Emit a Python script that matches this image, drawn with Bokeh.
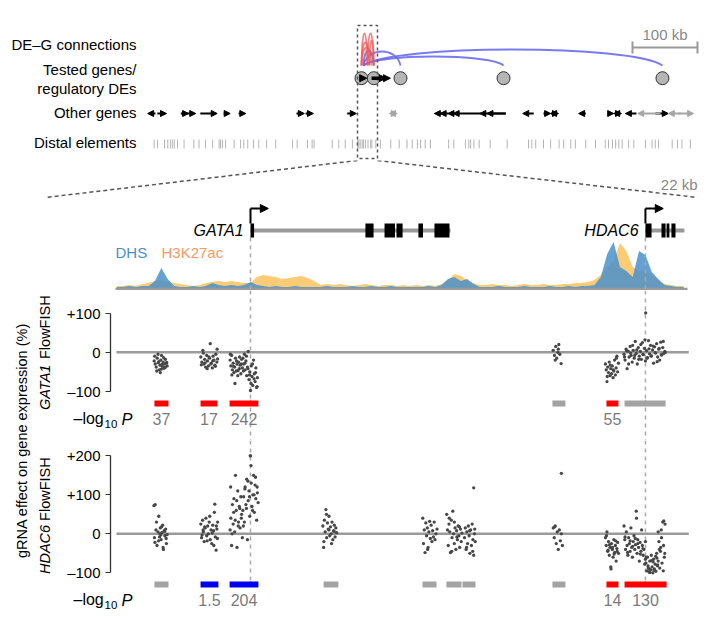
import numpy as np
from math import pi
from bokeh.plotting import figure
from bokeh.layouts import column, row
from bokeh.models import (Range1d, ColumnDataSource, Arrow, NormalHead,
                          FixedTicker, CustomJSTickFormatter)
from bokeh.core.properties import value
from bokeh.embed import file_html
from bokeh.resources import INLINE

FONT = "Liberation Sans"

# ============================ DATA ============================
# ---- overview (kb relative to GATA1 TSS) ----
DE_KB = [0, 18.9, 60, 218.5, 463]
TESTED_START = [0, 15.5, 39]
TESTED_END = [8, 38, 44.5]

ARC_DE = [463, 218.5, 60, 18.9, 0, 18.9, 0, 18.9, 0]
ARC_GENE = [3, 3, 3, 3, 9, 9, 12, 12, 15.5]
ARC_HEIGHT = [16, 9, 14, 15, 32, 32, 23, 25, 18]
ARC_DIR = ["up", "up", "up", "up", "down", "down", "down", "down", "down"]

OTHER_START = [-329, -314, -278, -268, -248, -212, -189, -100, -86, -22, 43, 49,
               112, 121, 133, 141, 182, 193, 248, 280, 291, 292, 334, 380, 388, 392,
               406, 425, 452, 472, 488]
OTHER_END = [-317, -300, -266, -255, -222, -202, -178, -88, -74, -8, 49, 55,
             124, 134, 143, 185, 222, 222, 265, 291, 300, 303, 345, 388, 395, 400,
             423, 460, 472, 491, 511]
OTHER_STRAND = ["-", "+", "+", "+", "+", "+", "+", "+", "+", "+", "-", "+",
                "-", "-", "-", "-", "-", "-", "-", "+", "-", "+", "-", "+", "-", "+",
                "-", "-", "+", "-", "+"]
OTHER_EXPRESSED = [1, 1, 1, 1, 1, 1, 1, 1, 1, 1, 0, 0,
                   1, 1, 1, 1, 1, 1, 1, 1, 1, 1, 1, 1, 1, 1,
                   1, 0, 1, 0, 0]

DISTAL_KB = [-319, -314, -303, -298, -294, -291, -288, -283, -273, -258, -250, -240,
             -229, -219, -217, -214, -209, -196, -186, -181, -175, -166, -158, -146,
             -132, -106, -99, -83, -76, -73, -45, -35, -25, -14, -6, -4, -2, 1, 3, 6,
             10, 14, 16, 22, 29, 45, 58, 70, 78, 86, 91, 98, 106, 134, 142, 160, 165,
             168, 173, 181, 198, 224, 257, 262, 268, 280, 291, 304, 311, 322, 329, 345,
             360, 375, 380, 386, 391, 396, 401, 411, 419, 437, 447, 452, 457, 478, 486,
             493, 506]
SCALE_KB = 100

# ---- zoomed locus (kb relative to GATA1 TSS) ----
GENE_NAMES = ["GATA1", "HDAC6"]
GENE_TSS = [0.0, 15.5]
GENE_END = [7.85, 17.03]
EXON_START = [0.0, 4.51, 5.26, 5.73, 6.59, 7.22, 15.5, 16.13, 16.33, 16.52]
EXON_END = [0.14, 4.83, 5.67, 5.97, 6.77, 7.81, 15.74, 16.29, 16.44, 16.68]
ZOOM_START, ZOOM_END = -5.3, 17.2

SIG_START, SIG_STEP = -5.25, 0.25
DHS = [2, 2, 3, 2, 3, 3, 8, 21, 10, 3, 2, 2, 3, 2, 3, 6, 4, 3, 4, 3, 4, 7, 4, 3, 2, 3, 2, 2, 3, 2,
       2, 2, 2, 3, 2, 2, 2, 3, 2, 2, 3, 2, 2, 3, 2, 2, 2, 2, 2, 3, 2, 4, 10, 12, 8, 10, 5, 2, 2, 2,
       3, 2, 2, 2, 3, 2, 2, 2, 3, 2, 2, 3, 2, 3, 3, 4, 12, 35, 47, 22, 18, 12, 38, 34, 17, 10, 4, 3, 2, 2]
H3K27AC = [3, 3, 4, 3, 5, 6, 8, 9, 7, 6, 5, 4, 3, 4, 6, 7, 8, 7, 8, 7, 6, 6, 12, 14, 13, 12, 10, 11, 12, 13,
           11, 8, 4, 5, 4, 5, 4, 3, 4, 5, 4, 3, 4, 4, 3, 4, 3, 4, 3, 4, 3, 5, 9, 15, 13, 9, 6, 4, 4, 5,
           4, 4, 3, 4, 5, 4, 4, 5, 4, 4, 5, 5, 6, 6, 7, 9, 14, 22, 28, 46, 38, 22, 18, 20, 14, 8, 5, 4, 3, 3]

# ---- CRISPRi FlowFISH gRNA effects (%), x = gRNA position (kb) ----
GATA1_X = (
    [-3.78, -3.74, -3.70, -3.66, -3.62, -3.58, -3.55, -3.52, -3.49, -3.46, -3.43, -3.40, -3.37, -3.34, -3.30, -3.27,
     -3.76, -3.68, -3.60, -3.54, -3.47, -3.41, -3.35, -3.29, -3.63, -3.50]
    + [-1.95, -1.91, -1.87, -1.83, -1.80, -1.76, -1.72, -1.69, -1.65, -1.61, -1.58, -1.54, -1.50, -1.47, -1.43, -1.40,
       -1.36, -1.32, -1.29, -1.93, -1.85, -1.78, -1.70, -1.63, -1.56, -1.48, -1.38, -1.31]
    + [-0.80, -0.77, -0.74, -0.71, -0.68, -0.65, -0.62, -0.59, -0.56, -0.53, -0.50, -0.47, -0.44, -0.41, -0.38, -0.35,
       -0.32, -0.79, -0.73, -0.67, -0.61, -0.55, -0.49, -0.43, -0.37]
    + [-0.30, -0.27, -0.24, -0.21, -0.18, -0.15, -0.12, -0.09, -0.06, -0.03, 0.00, 0.03, 0.06, 0.09, 0.12, 0.15,
       0.18, 0.21, 0.24, 0.27, -0.28, -0.22, -0.16, -0.10, -0.04, 0.02, 0.08, 0.14, 0.20, 0.26]
    + [11.88, 11.93, 11.98, 12.02, 12.06, 12.10, 12.14, 12.19, 11.96, 12.08]
    + [13.93, 13.96, 13.99, 14.02, 14.05, 14.08, 14.11, 14.14, 14.17, 14.20, 14.23, 14.26, 14.29, 14.32, 14.35, 14.38,
       14.41, 14.44, 14.00, 14.12, 14.24, 14.36]
    + [14.66, 14.70, 14.74, 14.78, 14.82, 14.86, 14.90, 14.94, 14.98, 15.02, 15.06, 15.10, 15.14, 15.18, 15.22, 15.26,
       15.30, 15.34, 15.38, 15.42, 15.46, 15.50, 15.54, 15.58, 15.62, 15.66, 15.70, 15.74, 15.78, 15.82, 15.86, 15.90,
       15.94, 15.98, 16.02, 16.06, 16.10, 16.14, 16.18, 16.22, 16.26,
       14.68, 14.76, 14.84, 14.92, 15.00, 15.08, 15.16, 15.24, 15.32, 15.40, 15.48, 15.56, 15.64, 15.72, 15.80, 15.88,
       15.96, 16.04, 16.12, 16.20, 16.28, 15.51]
)
GATA1_Y = (
    [-22, -30, -38, -15, -27, -45, -33, -20, -8, -36, -25, -41, -30, -18, -28, -35,
     -10, -48, -24, -52, -31, -14, -39, -26, -5, -43]
    + [-12, -25, 5, -30, -18, -38, -8, -22, -35, -15, 22, -28, -40, -10, -20, -33,
       -5, -25, -17, -32, -2, -27, -42, -12, -30, -22, -36, 8]
    + [-20, -35, -8, -45, -28, -52, -38, -15, -48, -30, -60, -25, -42, -33, -55, -18,
       -40, -5, -58, -36, -80, -22, -47, -12, -30]
    + [-15, -30, -5, -45, -22, -60, -38, 2, -70, -50, -98, -35, -62, -85, -20, -55,
       -75, -40, -90, -65, -48, -28, -10, -42, -58, -80, -30, -68, -52, -88]
    + [5, -8, 15, -15, 0, 20, -5, -29, -20, 8]
    + [-30, -45, -75, -38, -52, -25, -60, -42, -55, -35, -65, -48, -20, -58, -40, -10,
       -50, -28, -62, -33, -45, -15]
    + [-5, -20, 8, -42, 3, -12, 15, -8, -25, 5, -15, 28, -3, -30, 12, -10,
       2, -18, 25, -6, 10, -22, 4, -14, 30, -4, 18, -9, 6, -28, 14, -2,
       22, -12, 8, -20, 26, -7, 12, -3, 2,
       -12, 4, -30, -2, 18, -8, 6, -18, 20, -5, 32, -15, 9, -10, 16, -1,
       -24, 10, -6, 28, 0, 101]
)
HDAC6_X = (
    [-3.79, -3.75, -3.71, -3.67, -3.63, -3.60, -3.57, -3.54, -3.51, -3.48, -3.45, -3.42, -3.39, -3.36, -3.33, -3.30,
     -3.27, -3.77, -3.69, -3.61, -3.55, -3.49, -3.43, -3.37, -3.31, -3.74, -3.52]
    + [-1.95, -1.92, -1.88, -1.85, -1.82, -1.78, -1.75, -1.72, -1.68, -1.65, -1.62, -1.58, -1.55, -1.52, -1.48, -1.45,
       -1.42, -1.38, -1.35, -1.32, -1.29, -1.90, -1.80, -1.70, -1.60, -1.50, -1.40, -1.30, -1.44, -1.34, -1.86]
    + [-0.80, -0.77, -0.74, -0.71, -0.68, -0.65, -0.62, -0.59, -0.56, -0.53, -0.50, -0.47, -0.44, -0.41, -0.38, -0.35,
       -0.32, -0.78, -0.72, -0.66, -0.60, -0.54, -0.48, -0.42, -0.36]
    + [-0.30, -0.27, -0.24, -0.21, -0.18, -0.15, -0.12, -0.09, -0.06, -0.03, 0.00, 0.03, 0.06, 0.09, 0.12, 0.15,
       0.18, 0.21, 0.24, 0.27, 0.30, -0.28, -0.22, -0.16, -0.10, -0.04, 0.02, 0.08, 0.14, 0.20, 0.26, -0.01]
    + [2.84, 2.87, 2.90, 2.93, 2.96, 2.99, 3.02, 3.05, 3.08, 3.11, 3.14, 3.17, 3.20, 3.23, 3.26, 3.29,
       3.32, 3.35, 3.38, 2.88, 2.98, 3.08, 3.18, 3.28]
    + [6.76, 6.79, 6.82, 6.85, 6.88, 6.91, 6.94, 6.97, 7.00, 7.03, 7.06, 7.09, 7.12, 7.15, 7.18, 7.21,
       7.24, 7.28, 7.32, 6.95]
    + [7.70, 7.73, 7.76, 7.79, 7.82, 7.85, 7.88, 7.91, 7.94, 7.97, 8.00, 8.03, 8.06, 8.09, 8.12, 8.15,
       8.18, 8.21, 8.24, 8.27, 8.30, 7.80, 7.90, 8.00, 8.10, 8.20]
    + [8.40, 8.43, 8.46, 8.49, 8.52, 8.55, 8.58, 8.61, 8.64, 8.67, 8.70, 8.73, 8.76, 8.79, 8.82, 8.48,
       8.60, 8.72, 8.80, 8.76]
    + [11.88, 11.92, 11.96, 12.00, 12.04, 12.08, 12.12, 12.16, 12.20, 12.24, 11.94, 12.20]
    + [13.93, 13.96, 13.99, 14.02, 14.05, 14.08, 14.11, 14.14, 14.17, 14.20, 14.23, 14.26, 14.29, 14.32, 14.35, 14.38,
       14.41, 14.44, 13.97, 14.03, 14.09, 14.15, 14.21, 14.27, 14.33, 14.39]
    + [14.66, 14.69, 14.72, 14.75, 14.78, 14.81, 14.84, 14.87, 14.90, 14.93, 14.96, 14.99, 15.02, 15.05, 15.08, 15.11,
       15.14, 15.17, 15.20, 15.23, 15.26, 15.29, 15.32, 15.35, 15.38, 15.41, 15.44, 15.47, 15.50, 15.53,
       14.70, 14.80, 14.90, 15.00, 15.10, 15.20, 15.30, 15.40, 15.50, 15.15]
    + [15.52, 15.55, 15.58, 15.61, 15.64, 15.67, 15.70, 15.73, 15.76, 15.79, 15.82, 15.85, 15.88, 15.91, 15.94, 15.97,
       16.00, 16.03, 16.06, 16.09, 16.12, 16.15, 16.18, 16.21, 16.24, 16.27,
       15.60, 15.68, 15.75, 15.83, 15.90, 15.98, 16.05, 16.13, 16.20, 16.26,
       15.65, 15.80, 15.95, 16.10, 16.00, 16.22]
)
HDAC6_Y = (
    [72, -22, 10, -30, 5, 45, -8, 15, -15, 3, 22, -40, 8, -5, 12, -25,
     -2, -10, 30, -18, 0, 18, -35, 6, -12, 75, -3]
    + [25, -10, 35, 5, -20, 15, 40, -5, 20, 0, 30, -15, 10, -25, 22, 8,
       55, -8, -42, 12, 30, -3, 18, -18, 45, 2, 76, -12, -30, 20, 10]
    + [10, 40, -30, 75, 25, 90, 5, 150, 60, -35, 110, 30, 70, 15, 95, 50,
       -10, 120, 0, 55, 35, 85, 20, 65, 40]
    + [60, 95, 30, 120, 75, 140, -15, 85, 110, 45, 200, 130, 70, 100, 150, 55,
       125, 90, 35, 105, 80, 20, 115, 65, 135, 95, 175, 60, 100, 145, 120, 200]
    + [20, -35, 35, 5, 62, -10, 28, 12, 45, -5, 18, 0, 30, -15, 8, 22,
       -8, 15, 3, -20, 50, 10, -25, 6]
    + [40, -25, 10, -48, 28, -5, 15, -35, 5, 32, -12, 22, -20, 8, -8, 30,
       -15, 0, 12, -40]
    + [50, 10, -30, 25, 5, -48, 35, -10, 58, 0, -25, 15, -40, 8, -15, 20,
       -5, -35, 12, -20, 2, 40, -45, 30, -8, 18]
    + [-10, 15, -40, 5, -25, 20, -5, -50, 10, -30, 25, -15, -55, 0, -20, -35,
       8, -45, 12, 118]
    + [15, -10, 20, -25, 5, -40, 10, -18, 0, -30, 18, 155]
    + [-10, -30, 5, -45, -20, -55, -35, -85, -25, -40, -60, -15, -48, -30, -70, -38,
       -22, -50, -5, -42, -28, -90, -35, -52, -18, -45]
    + [20, -15, -40, 5, -30, -55, -10, -25, -45, 15, -35, -60, -20, -5, -40, -28,
       58, -50, -15, -35, -70, -22, -45, 10, -30, -55, -40, -78, -20, -60,
       -8, -48, -18, -32, -12, -25, -52, -38, -65, 40]
    + [-75, -95, -60, -88, -98, -70, -92, -55, -85, -100, -65, -90, -78, -96, -50, -82,
       -70, -20, -88, -45, 10, -75, 30, -30, -60, 25,
       -82, -99, -68, -93, -58, -80, -40, -10, -95, -50,
       -90, -72, -62, -35, 5, 33]
)

# tested elements and their significance (-log10 P), colour = direction
GATA1_EL_START = [-3.77, -1.96, -0.82, 11.85, 13.97, 14.68]
GATA1_EL_END = [-3.22, -1.30, 0.31, 12.36, 14.44, 16.29]
GATA1_EL_CLASS = ["down", "down", "down", "ns", "down", "ns"]
GATA1_EL_P = ["37", "17", "242", "", "55", ""]

HDAC6_EL_START = [-3.77, -1.96, -0.82, 2.87, 6.75, 7.69, 8.32, 11.85, 13.97, 14.68]
HDAC6_EL_END = [-3.22, -1.26, 0.31, 3.45, 7.30, 8.28, 8.83, 12.36, 14.44, 16.33]
HDAC6_EL_CLASS = ["ns", "up", "up", "ns", "ns", "ns", "ns", "ns", "down", "down"]
HDAC6_EL_P = ["", "1.5", "204", "", "", "", "", "", "14", "130"]

CLASS_COLOR = {"down": "#ff0000", "up": "#0000ee", "ns": "#a3a3a3"}
ARC_COLOR = {"down": "#f05a5a", "up": "#6c6cf0"}

# ============================ LAYOUT HELPERS (page pixels) ============================
PAGE_W = 704


def kt(px):   # page x -> overview kb
    return (px - 361.0) / 0.65


def kb(px):   # page x -> zoom kb
    return (px - 250.0) / 25.48


def base_fig(w, h, xr, yr):
    p = figure(width=w, height=h, x_range=xr, y_range=yr, output_backend="svg",
               toolbar_location=None, x_axis_location=None, y_axis_location=None,
               outline_line_color=None, background_fill_color="white",
               border_fill_color="white", min_border=0)
    p.grid.visible = False
    return p


TXT = dict(text_font=value(FONT))
DASH = dict(line_color="#aaaaaa", line_dash="4 4", line_width=1.5)

# ============================ A: overview (page y 0-160) ============================
def ya(py):
    return 160.0 - py


pa = base_fig(PAGE_W, 160, Range1d(kt(0), kt(PAGE_W)), Range1d(0, 160))

pa.segment(x0=DISTAL_KB, x1=DISTAL_KB, y0=ya(148), y1=ya(139), line_color="#b4b4b4", line_width=1)

for expressed, col in ((1, "black"), (0, "#a6a6a6")):
    xs, xe = [], []
    for s, e, st, ex in zip(OTHER_START, OTHER_END, OTHER_STRAND, OTHER_EXPRESSED):
        if ex != expressed:
            continue
        xs.append(s if st == "+" else e)
        xe.append(e if st == "+" else s)
    src = ColumnDataSource(dict(xs=xs, xe=xe, y=[ya(113)] * len(xs)))
    pa.add_layout(Arrow(end=NormalHead(size=6, fill_color=col, line_color=col, line_width=1),
                        x_start="xs", y_start="y", x_end="xe", y_end="y",
                        line_color=col, line_width=2, source=src))

y_end = ya(65)
arc = dict(x0=[], y0=[], x1=[], y1=[], cx0=[], cy0=[], cx1=[], cy1=[], c=[], a=[])
for d, g, h, di in zip(ARC_DE, ARC_GENE, ARC_HEIGHT, ARC_DIR):
    span = d - g
    arc["x0"].append(g); arc["y0"].append(y_end)
    arc["x1"].append(d); arc["y1"].append(y_end)
    arc["cx0"].append(g + 0.1 * span); arc["cx1"].append(d - 0.1 * span)
    arc["cy0"].append(y_end + h / 0.75); arc["cy1"].append(y_end + h / 0.75)
    arc["c"].append(ARC_COLOR[di]); arc["a"].append(0.9 if di == "up" else 0.75)
pa.bezier(x0="x0", y0="y0", x1="x1", y1="y1", cx0="cx0", cy0="cy0", cx1="cx1", cy1="cy1",
          line_color="c", line_alpha="a", line_width=1.8, source=ColumnDataSource(arc))

pa.scatter(x=DE_KB, y=[ya(77.7)] * len(DE_KB), size=13, fill_color="#b5b5b5",
           line_color="#333333", line_width=1)
pa.add_layout(Arrow(end=NormalHead(size=7, fill_color="black", line_color="black", line_width=1),
                    x_start="xs", y_start="y", x_end="xe", y_end="y", line_color="black",
                    line_width=3.5,
                    source=ColumnDataSource(dict(xs=TESTED_START, xe=TESTED_END,
                                                 y=[ya(77.7)] * len(TESTED_START)))))

pa.quad(left=kt(357), right=kt(377), bottom=ya(158), top=ya(25), fill_color=None,
        line_color="#555555", line_dash="3 3", line_width=1.5)

sb_end = kt(697)
pa.segment(x0=sb_end - SCALE_KB, x1=sb_end, y0=ya(47), y1=ya(47), line_color="#999999", line_width=2)
pa.segment(x0=[sb_end - SCALE_KB, sb_end], x1=[sb_end - SCALE_KB, sb_end], y0=ya(41), y1=ya(53),
           line_color="#999999", line_width=2)
pa.text(x=[sb_end - SCALE_KB / 2], y=[ya(34)], text=["%d kb" % SCALE_KB], text_align="center",
        text_baseline="middle", text_font_size="15px", text_color="#888888", **TXT)

pa.text(x=[kt(136)] * 5, y=[ya(44), ya(69), ya(88), ya(112), ya(142)],
        text=["DE\u2013G connections", "Tested genes/", "regulatory DEs", "Other genes", "Distal elements"],
        text_align="right", text_baseline="middle", text_font_size="15px", text_color="black", **TXT)

# ============================ B: genes + chromatin (page y 160-290) ============================
def yb(py):
    return 290.0 - py


pb = base_fig(PAGE_W, 130, Range1d(kb(0), kb(PAGE_W)), Range1d(0, 130))
pb.extra_y_ranges = {"sig": Range1d(-(290 - 288.4), 130 - (290 - 288.4))}

pb.segment(x0=[kb(357), kb(377)], y0=[130, 130], x1=[kb(45), kb(697)], y1=[yb(197), yb(197)],
           line_color="#555555", line_dash="4 3", line_width=1.5)
pb.text(x=[kb(697)], y=[yb(184)], text=["22 kb"], text_align="right", text_baseline="middle",
        text_font_size="15px", text_color="#888888", **TXT)

sig_x = [SIG_START + SIG_STEP * i for i in range(len(DHS))]
pb.varea(x=sig_x, y1=[0] * len(sig_x), y2=H3K27AC, y_range_name="sig", fill_color="#fbc766", fill_alpha=0.9)
pb.varea(x=sig_x, y1=[0] * len(sig_x), y2=DHS, y_range_name="sig", fill_color="#4a91cb", fill_alpha=0.85)
pb.segment(x0=[ZOOM_START], x1=[ZOOM_END - 0.05], y0=[0], y1=[0], y_range_name="sig",
           line_color="#9a9a9a", line_width=2.5)

pb.segment(x0=GENE_TSS, x1=GENE_TSS, y0=yb(237), y1=0, **DASH)

pb.segment(x0=GENE_TSS, x1=GENE_END, y0=yb(230), y1=yb(230), line_color="#999999", line_width=4)
pb.quad(left=EXON_START, right=EXON_END, bottom=yb(237), top=yb(223), fill_color="black", line_color=None)
pb.segment(x0=GENE_TSS, x1=GENE_TSS, y0=yb(223), y1=yb(208), line_color="black", line_width=2)
pb.add_layout(Arrow(end=NormalHead(size=8, fill_color="black", line_color="black", line_width=1),
                    x_start="xs", y_start="y", x_end="xe", y_end="y", line_color="black", line_width=2,
                    source=ColumnDataSource(dict(xs=GENE_TSS, xe=[t + 0.7 for t in GENE_TSS],
                                                 y=[yb(208)] * 2))))
pb.text(x=[t - 0.27 for t in GENE_TSS], y=[yb(230)] * 2, text=GENE_NAMES, text_align="right",
        text_baseline="middle", text_font_size="16px", text_font_style="italic", text_color="black", **TXT)

pb.text(x=[kb(115)], y=[yb(252)], text=["DHS"], text_align="left", text_baseline="middle",
        text_font_size="15px", text_color="#4a90c8", **TXT)
pb.text(x=[kb(161)], y=[yb(252)], text=["H3K27ac"], text_align="left", text_baseline="middle",
        text_font_size="15px", text_color="#f4995f", **TXT)

# ============================ C/D: FlowFISH panels ============================
FMT = CustomJSTickFormatter(code="return tick > 0 ? '+' + tick : (tick < 0 ? '\\u2013' + Math.abs(tick) : '0');")
RIGHT_W = PAGE_W - 60


def flow_scatter(top_py, bot_py, zero_py, xs, ys, ticks):
    v = lambda py: (zero_py - py) / 0.39
    p = figure(width=RIGHT_W, height=int(bot_py - top_py), x_range=Range1d(kb(110), kb(690)),
               y_range=Range1d(v(bot_py), v(top_py)), output_backend="svg",
               toolbar_location=None, x_axis_location=None, y_axis_location="left",
               outline_line_color=None, background_fill_color="white", border_fill_color="white",
               min_border_left=50, min_border_right=PAGE_W - 690, min_border_top=0, min_border_bottom=0)
    p.grid.visible = False
    ax = p.yaxis[0]
    ax.ticker = FixedTicker(ticks=ticks)
    ax.bounds = (min(ticks), max(ticks))
    ax.formatter = FMT
    ax.major_label_text_font = FONT
    ax.major_label_text_font_size = "15px"
    ax.major_label_text_color = "black"
    ax.axis_line_color = "#333333"
    ax.axis_line_width = 1.3
    ax.major_tick_line_color = "#333333"
    ax.major_tick_out = 5
    ax.major_tick_in = 0
    ax.minor_tick_line_color = None
    ax.major_label_standoff = 5
    p.segment(x0=[ZOOM_START + 0.04], x1=[ZOOM_END], y0=[0], y1=[0], line_color="#9a9a9a", line_width=2.5)
    p.segment(x0=GENE_TSS, x1=GENE_TSS, y0=v(top_py), y1=v(bot_py), **DASH)
    p.scatter(x=xs, y=ys, size=3.3, fill_color="#474747", line_color=None)
    return p


def flow_bars(top_py, bot_py, el_s, el_e, el_c, el_p, bar_py, txt_py, dash_to_bar):
    yy = lambda py: bot_py - py
    p = base_fig(RIGHT_W, int(bot_py - top_py), Range1d(kb(60), kb(PAGE_W)), Range1d(0, bot_py - top_py))
    p.segment(x0=GENE_TSS, x1=GENE_TSS, y0=yy(top_py), y1=yy(bar_py) if dash_to_bar else 0, **DASH)
    p.quad(left=el_s, right=el_e, bottom=yy(bar_py + 3), top=yy(bar_py - 3),
           fill_color=[CLASS_COLOR[c] for c in el_c], line_color=None)
    p.text(x=[(a + b) / 2 for a, b in zip(el_s, el_e)], y=[yy(txt_py)] * len(el_s), text=el_p,
           text_align="center", text_baseline="middle", text_font_size="16px", text_color="#7a7a7a", **TXT)
    p.text(x=[kb(73)], y=[yy(txt_py)], text=["\u2013log"], text_align="left", text_baseline="middle",
           text_font_size="16px", text_color="black", **TXT)
    p.text(x=[kb(104)], y=[yy(txt_py + 5.5)], text=["10"], text_align="left", text_baseline="middle",
           text_font_size="11.5px", text_color="black", **TXT)
    p.text(x=[kb(121)], y=[yy(txt_py)], text=["P"], text_align="left", text_baseline="middle",
           text_font_size="16.5px", text_font_style="italic", text_color="black", **TXT)
    return p


pc = flow_scatter(290, 399, 351.8, GATA1_X, GATA1_Y, [-100, 0, 100])
pcb = flow_bars(399, 440, GATA1_EL_START, GATA1_EL_END, GATA1_EL_CLASS, GATA1_EL_P, 403, 418, False)
pd_ = flow_scatter(440, 580, 533.3, HDAC6_X, HDAC6_Y, [-100, 0, 100, 200])
pdb = flow_bars(580, 612, HDAC6_EL_START, HDAC6_EL_END, HDAC6_EL_CLASS, HDAC6_EL_P, 584, 599, True)

# ---- left label strip (page x 0-60, y 290-612) ----
def yl(py):
    return 612.0 - py


pl = base_fig(60, 322, Range1d(0, 60), Range1d(0, 322))
pl.text(x=[21], y=[yl(440)], text=["gRNA effect on gene expression (%)"], angle=pi / 2,
        text_align="center", text_baseline="middle", text_font_size="14.5px", text_color="black", **TXT)
pl.text(x=[44, 44], y=[yl(409.5), yl(573.5)], text=["GATA1", "HDAC6"], angle=pi / 2,
        text_align="left", text_baseline="middle", text_font_size="14.5px", text_font_style="italic",
        text_color="black", **TXT)
pl.text(x=[44, 44], y=[yl(358.5), yl(520.4)], text=["FlowFISH", "FlowFISH"], angle=pi / 2,
        text_align="left", text_baseline="middle", text_font_size="14.5px", text_color="black", **TXT)

right = column(row(pc, spacing=0), row(pcb, spacing=0), row(pd_, spacing=0), row(pdb, spacing=0), spacing=0)
layout = column(pa, pb, row(pl, right, spacing=0), spacing=0)

with open("out.html", "w") as f:
    f.write(file_html(layout, INLINE))
